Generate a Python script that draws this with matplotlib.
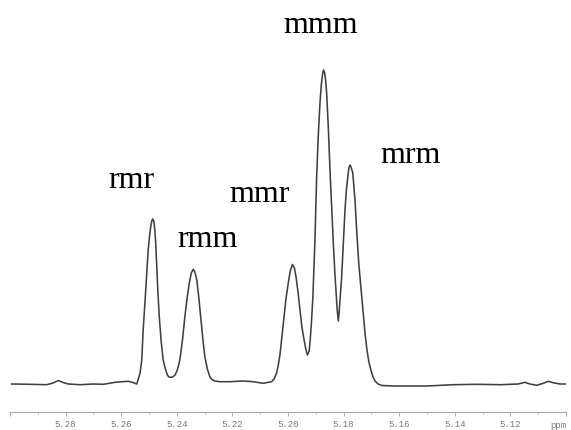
import numpy as np
import matplotlib
matplotlib.use("Agg")
import matplotlib.pyplot as plt
from matplotlib.ticker import FixedLocator, MultipleLocator

# spectrum (ppm, intensity)
ppm = [5.2994, 5.2928, 5.2868, 5.2845, 5.2826, 5.2809, 5.2790, 5.2748, 5.2700, 5.2664,
       5.2622, 5.2598, 5.2574, 5.2556, 5.2544,
       # rmr
       5.2532, 5.2526, 5.2521, 5.2514, 5.2508, 5.2503, 5.2498, 5.2494, 5.2490, 5.2487,
       5.2483, 5.2480, 5.2476, 5.2472, 5.2468, 5.2463, 5.2456, 5.2449, 5.2441, 5.2434,
       5.2428, 5.2422, 5.2415,
       # rmm
       5.2406, 5.2397, 5.2389, 5.2380, 5.2371, 5.2363, 5.2355, 5.2348, 5.2341, 5.2335,
       5.2328, 5.2321, 5.2314, 5.2306, 5.2299, 5.2290, 5.2281, 5.2272, 5.2263,
       5.2245, 5.2209, 5.2161, 5.2125, 5.2089, 5.2059,
       # mmr
       5.2050, 5.2041, 5.2035, 5.2029, 5.2022, 5.2014, 5.2007, 5.1999, 5.1992, 5.1984,
       5.1977, 5.1971, 5.1964, 5.1957, 5.1950, 5.1942, 5.1936, 5.1930, 5.1924, 5.1921,
       # mmm
       5.1916, 5.1911, 5.1907, 5.1903, 5.1897, 5.1891, 5.1885, 5.1880, 5.1875, 5.1872,
       5.1868, 5.1864, 5.1861, 5.1855, 5.1849, 5.1843, 5.1837, 5.1831, 5.1827, 5.1823,
       5.1819,
       # mrm
       5.1816, 5.1812, 5.1807, 5.1801, 5.1795, 5.1790, 5.1785, 5.1781, 5.1777, 5.1773,
       5.1767, 5.1759, 5.1752, 5.1745, 5.1737, 5.1730, 5.1723, 5.1716, 5.1709, 5.1701,
       5.1694, 5.1687, 5.1676, 5.1662,
       5.1621, 5.1501, 5.1405, 5.1321, 5.1237, 5.1172, 5.1148, 5.1130, 5.1105, 5.1082,
       5.1064, 5.1046, 5.1022, 5.0998]
intensity = [2, 1.7, 1.3, 3, 5.5, 3.5, 2, 1.3, 2, 1.7,
             3.7, 4.3, 4.7, 3.3, 2,
             13, 26, 56, 86, 114, 136, 150, 159, 165, 167,
             165, 159, 144, 119, 94, 69, 44, 26, 17, 11,
             9, 8.7, 9,
             11, 17, 26, 45, 69, 88, 103, 113, 116.7, 114,
             106, 89, 69, 46, 29, 17, 9, 6, 5,
             4.3, 4.3, 5, 4.3, 2.7, 4.3,
             7, 13, 21, 31, 49, 69, 88, 103, 115, 121.5,
             118, 109, 94, 76, 59, 46, 37, 31, 35, 43,
             62, 86, 115, 146, 209, 251, 283, 302, 313, 316,
             313, 304, 293, 259, 216, 179, 143, 111, 93, 76,
             65,
             74, 90, 109, 143, 176, 196, 209, 218, 221, 219,
             213, 186, 151, 121, 96, 74, 53, 36, 24, 15,
             9, 5, 2, 0.5,
             0, 0, 1.3, 1.7, 1.3, 2, 3.7, 2, 0.7, 2.7,
             4.7, 3.3, 2, 2]

# peak labels
peak_names = ["rmr", "rmm", "mmr", "mmm", "mrm"]
label_ppm = [5.2563, 5.2289, 5.2104, 5.1881, 5.1558]
label_int = [198, 138.7, 183.7, 352.7, 223.3]

tick_vals = [5.28, 5.26, 5.24, 5.22, 5.20, 5.18, 5.16, 5.14, 5.12]

fig = plt.figure(figsize=(5.71, 4.30), dpi=100)
ax = fig.add_axes([10/571, 18.3/430, 556/571, 411.7/430])
ax.plot(ppm, intensity, color="#404040", lw=1.15, solid_joinstyle="round")
ax.set_xlim(5.30, 5.10)
ax.set_ylim(-25.7, 386)

for s in ["top", "left", "right"]:
    ax.spines[s].set_visible(False)
ax.spines["bottom"].set_color("#aaaaaa")
ax.spines["bottom"].set_linewidth(0.8)
ax.set_yticks([])

ax.xaxis.set_major_locator(FixedLocator([5.30] + tick_vals + [5.10]))
ax.set_xticklabels([""] + ["%.2f" % t for t in tick_vals] + [""])
ax.xaxis.set_minor_locator(MultipleLocator(0.01))
ax.tick_params(axis="x", which="major", direction="out", length=3, width=0.7,
               color="#aaaaaa", labelsize=6.5, labelcolor="#777777", pad=3)
ax.tick_params(axis="x", which="minor", direction="out", length=1.5, width=0.6,
               color="#aaaaaa")
for lbl in ax.get_xticklabels():
    lbl.set_family("Liberation Mono")
ax.text(5.10, -25.7 - 9, "ppm", ha="right", va="top", fontsize=6.5, color="#777777",
        family="Liberation Mono", clip_on=False)

for name, xp, yp in zip(peak_names, label_ppm, label_int):
    ax.text(xp, yp, name, ha="center", va="baseline", fontsize=23,
            family="Liberation Serif", color="black")

fig.savefig("out.png", dpi=100)
